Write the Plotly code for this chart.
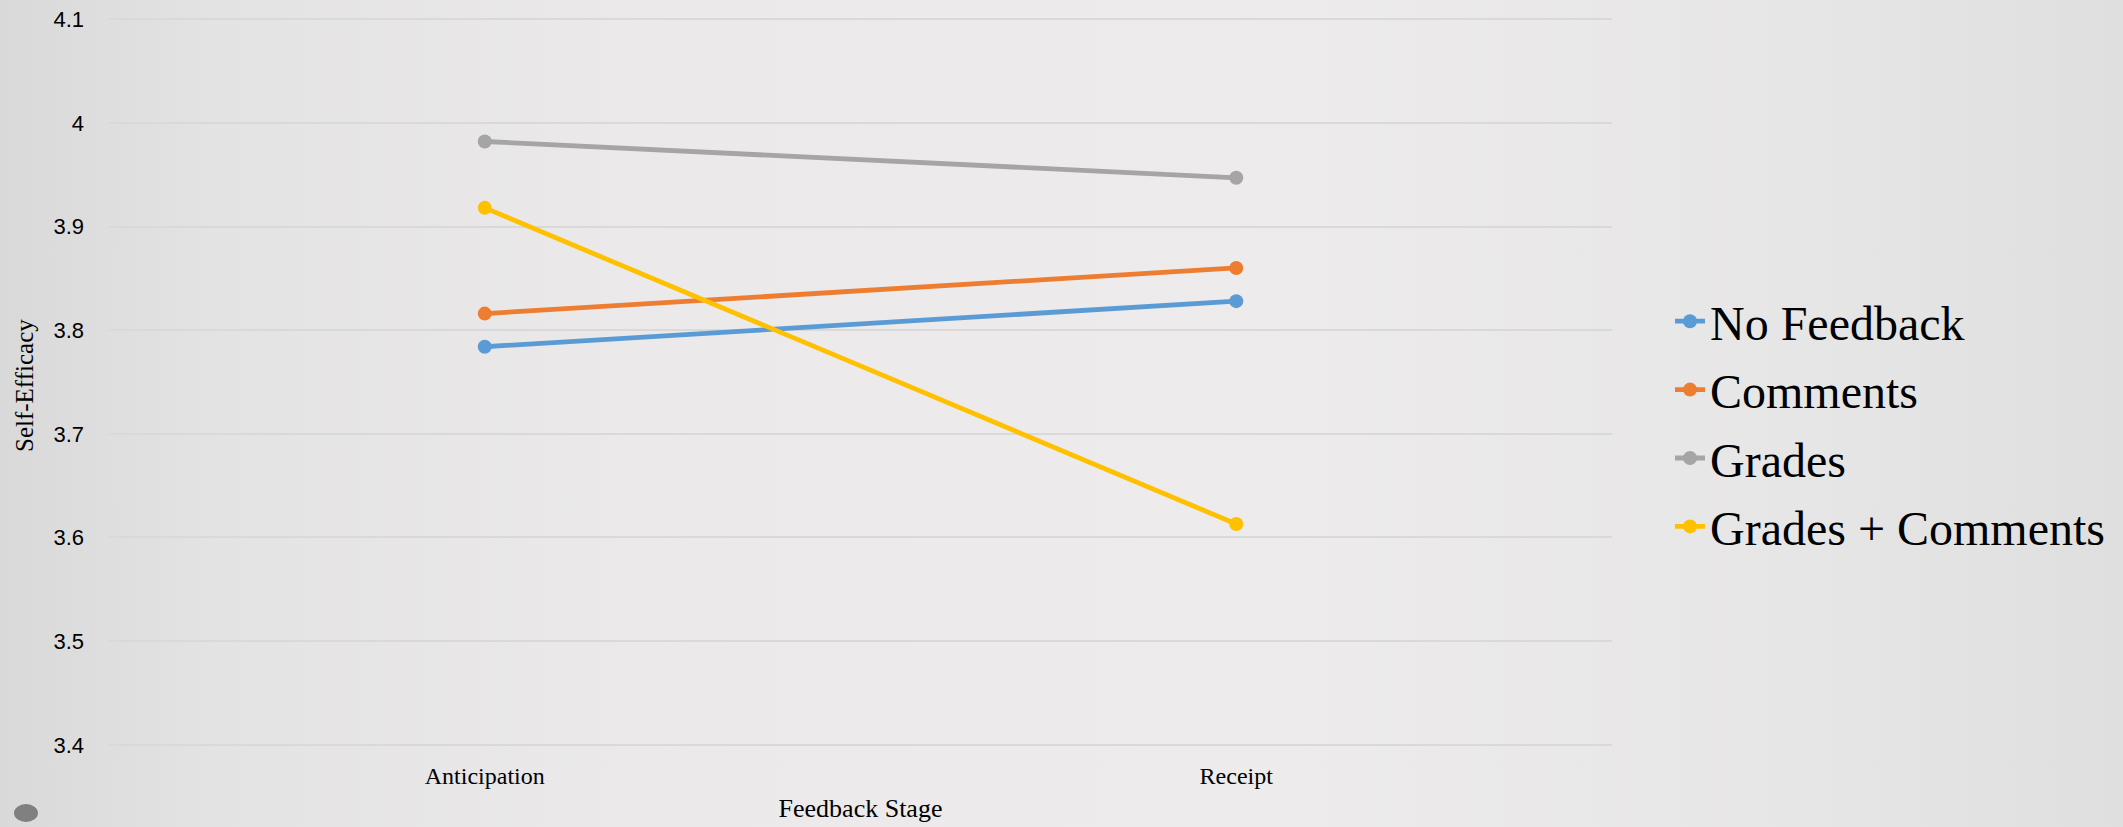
import base64
import plotly.graph_objects as go

# ---- data ----
stages = ["Anticipation", "Receipt"]
series_names = ["No Feedback", "Comments", "Grades", "Grades + Comments"]
no_feedback = [3.784, 3.828]
comments = [3.816, 3.860]
grades = [3.982, 3.947]
grades_comments = [3.918, 3.613]
y_tick_vals = [3.4, 3.5, 3.6, 3.7, 3.8, 3.9, 4.0, 4.1]
y_tick_text = ["3.4", "3.5", "3.6", "3.7", "3.8", "3.9", "4", "4.1"]

colors = ["#5B9BD5", "#ED7D31", "#A5A5A5", "#FFC000"]
values = [no_feedback, comments, grades, grades_comments]

W, H = 2123, 827
L, R, T, B = 109, 511, 14, 77
pw, ph = W - L - R, H - T - B

serif = "Liberation Serif, Times New Roman, serif"
sans = "Liberation Sans, Arial, sans-serif"

fig = go.Figure()
for name, vals, col in zip(series_names, values, colors):
    fig.add_trace(go.Scatter(
        x=stages, y=vals, name=name, mode="lines+markers",
        legendgroup=name,
        line=dict(color=col, width=4.8),
        marker=dict(color=col, size=14),
    ))

# background gradient as an SVG image
svg = f'''<svg xmlns="http://www.w3.org/2000/svg" width="{W}" height="{H}" viewBox="0 0 {W} {H}" preserveAspectRatio="none">
<defs><linearGradient id="g" x1="0" y1="0" x2="1" y2="0">
<stop offset="0" stop-color="#D9D9D9"/><stop offset="0.1" stop-color="#E4E3E4"/>
<stop offset="0.3" stop-color="#EBE9EA"/><stop offset="0.6" stop-color="#EDEBEC"/>
<stop offset="0.85" stop-color="#E7E6E7"/><stop offset="1" stop-color="#DFDFDF"/>
</linearGradient></defs><rect width="{W}" height="{H}" fill="url(#g)"/></svg>'''
uri = "data:image/svg+xml;base64," + base64.b64encode(svg.encode()).decode()

def px2x(p):
    return (p - L) / pw

def py2y(p):
    return (H - B - p) / ph

fig.add_layout_image(dict(
    source=uri, xref="paper", yref="paper",
    x=px2x(0), y=py2y(0), sizex=W / pw, sizey=H / ph,
    xanchor="left", yanchor="top", sizing="stretch", layer="below",
))

fig.add_shape(type="circle", xref="paper", yref="paper",
              x0=px2x(14), x1=px2x(38), y0=py2y(822), y1=py2y(804),
              fillcolor="#808080", line=dict(width=0), layer="above")

fig.add_annotation(text="Self-Efficacy", xref="paper", yref="paper",
                   x=px2x(24), y=py2y(386), xanchor="center", yanchor="middle",
                   textangle=-90, showarrow=False,
                   font=dict(family=serif, size=25, color="#000000"))

fig.update_layout(
    width=W, height=H,
    margin=dict(l=L, r=R, t=T, b=B, autoexpand=False),
    paper_bgcolor="#E9E8E9",
    plot_bgcolor="rgba(0,0,0,0)",
    showlegend=True,
    legend=dict(
        font=dict(family=serif, size=48, color="#000000"),
        x=px2x(1670), xanchor="left",
        y=py2y(424), yanchor="middle",
        bgcolor="rgba(0,0,0,0)", tracegroupgap=3,
    ),
    xaxis=dict(
        type="category", range=[-0.5, 1.5],
        showgrid=False, showline=False, zeroline=False, ticks="",
        tickfont=dict(family=serif, size=24, color="#000000"),
        ticklabelstandoff=9,
        title=dict(text="Feedback Stage", font=dict(family=serif, size=26, color="#000000"), standoff=10),
    ),
    yaxis=dict(
        range=[3.395, 4.105],
        tickmode="array", tickvals=y_tick_vals, ticktext=y_tick_text,
        showgrid=True, gridcolor="#D9D9D9", gridwidth=2,
        showline=False, zeroline=False, ticks="",
        tickfont=dict(family=sans, size=22, color="#000000"),
        ticklabelstandoff=24,
    ),
)

fig.write_html("out.html")
